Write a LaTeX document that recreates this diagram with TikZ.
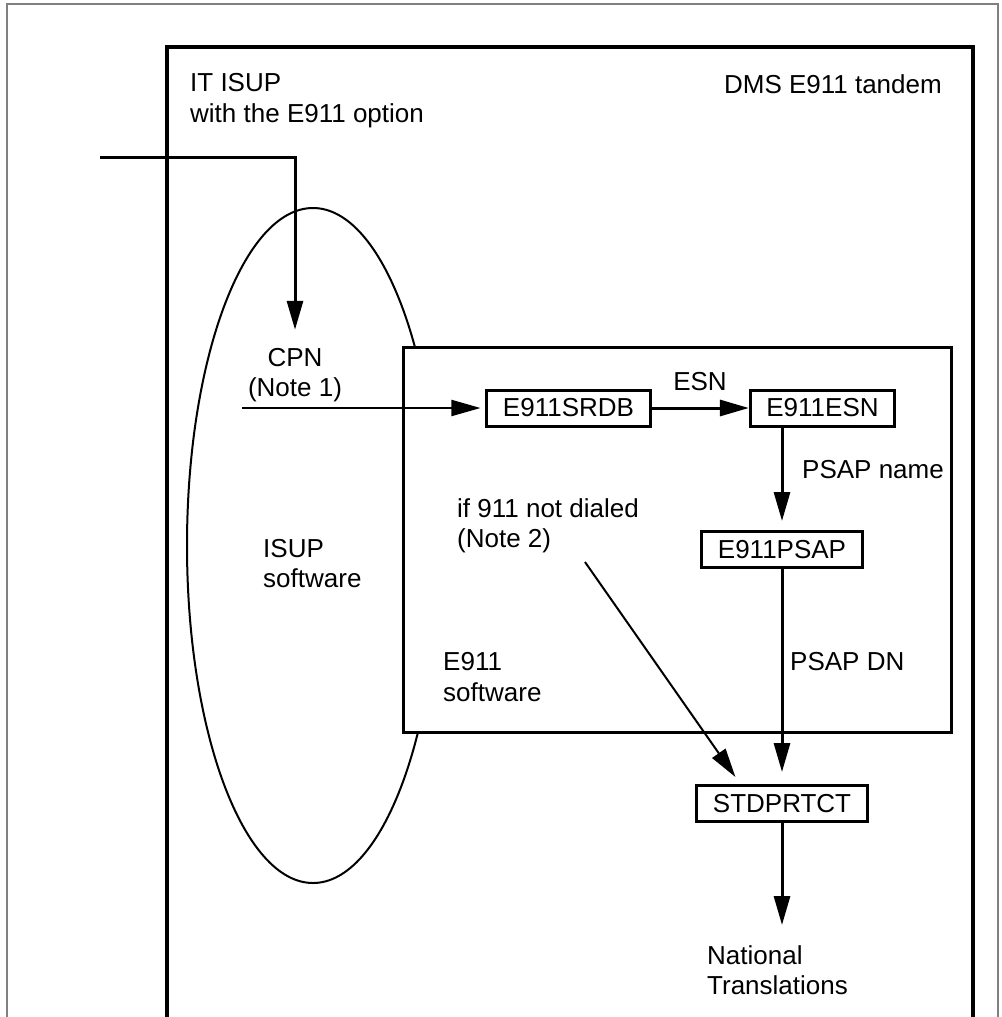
\documentclass[tikz,border=0pt]{standalone}
\usepackage{fontspec}
\setmainfont{Liberation Sans}
\usetikzlibrary{arrows.meta}

\begin{document}
\begin{tikzpicture}[x=1pt,y=-1pt,>={Triangle[length=29pt,width=16pt]},
  font=\fontsize{26}{30.5}\selectfont,
  tbl/.style={draw,line width=3pt,fill=white,inner xsep=16pt,inner ysep=0pt,minimum height=36pt},
  txt/.style={inner sep=0pt,align=left},
  flow/.style={->,line width=3pt}]
\useasboundingbox (0,0) rectangle (1001,1017);

% frames
\draw[black!50,line width=1.5pt] (7,1017) -- (7,4) -- (998,4) -- (998,1017);
\draw[line width=3.5pt] (167,1017) -- (167,47) -- (973,47) -- (973,1017);
\node[txt,anchor=west] (itisup) at (190,100.5) {IT ISUP\\with the E911 option};
\node[txt,anchor=east] (dms) at (942,84) {DMS E911 tandem};

% ISUP and E911 software
\draw[line width=2pt] (313,545.5) ellipse [x radius=126, y radius=337.5];
\node[txt,anchor=west] (isup) at (263,563.5) {ISUP\\software};
\draw[line width=3pt,fill=white] (403,347) rectangle (951,732);
\node[txt,anchor=west] (e911sw) at (443,677) {E911\\software};

% tables
\node[tbl] (srdb) at (568.5,408) {E911SRDB};
\node[tbl] (esn) at (822.5,408) {E911ESN};
\node[tbl] (psap) at (782,549.5) {E911PSAP};
\node[tbl] (std) at (782,803.5) {STDPRTCT};

\node[txt,align=center] (cpn) at (295,375) {CPN\\(Note 1)};
\node[txt] (esnlbl) at (700,382) {ESN};
\node[txt,anchor=west] (psapname) at (802,470) {PSAP name};
\node[txt,anchor=west] (psapdn) at (790,662) {PSAP DN};
\node[txt,anchor=west] (ifnote) at (457,526) {if 911 not dialed\\(Note 2)};
\node[txt,anchor=west] (natl) at (707,970) {National\\Translations};

\coordinate (feed) at (100,157);
\coordinate (cpnin) at (242,408);
\coordinate (skip) at (585,562);

\draw[flow,shorten >=18pt] (feed) -| (cpn.north);
\draw[flow,line width=2pt,shorten >=5pt] (cpnin) -- (srdb);
\draw[flow] (srdb) -- (esn);
\draw[flow,shorten >=9pt] (esn.south -| psap.north) -- (psap.north);
\draw[flow,shorten >=12pt] (psap) -- (std);
\draw[flow,line width=2pt] (skip) -- ([xshift=40pt,yshift=7pt]std.north west);
\draw[flow,shorten >=20pt] (std) -- (std.south |- natl.north);
\end{tikzpicture}
\end{document}
